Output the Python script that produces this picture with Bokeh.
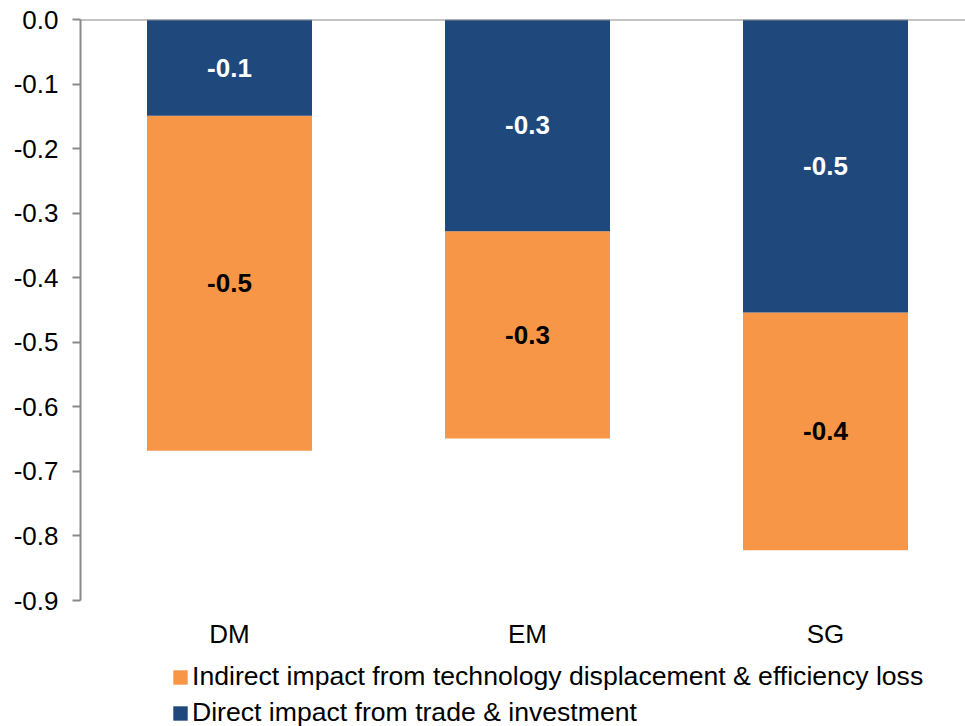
from bokeh.plotting import figure
from bokeh.models import (ColumnDataSource, Range1d, FixedTicker, NumeralTickFormatter,
                          Span, Legend, LegendItem, LabelSet)
from bokeh.core.properties import value
from bokeh.embed import file_html
from bokeh.resources import INLINE

categories = ["DM", "EM", "SG"]
direct = [-0.149, -0.328, -0.454]
indirect = [-0.519, -0.321, -0.368]
direct_name = "Direct impact from trade & investment"
indirect_name = "Indirect impact from technology displacement & efficiency loss"
y_ticks = [0.0, -0.1, -0.2, -0.3, -0.4, -0.5, -0.6, -0.7, -0.8, -0.9]
y_min, y_max = -0.9, 0.0

BLUE = "#1F497D"
ORANGE = "#F79646"
GRAY = "#898989"
FONT = "Liberation Sans"

# frame: top at 19px, axis bottom (-0.9) at 600px, canvas bottom at 726px
px_per_unit = (600 - 19) / (y_max - y_min)
y_lo = y_max - (726 - 19) / px_per_unit

xs = [i + 0.5 for i in range(len(categories))]
top_ind = [d + v for d, v in zip(direct, indirect)]
src = ColumnDataSource(dict(
    x=xs, d_top=[0.0] * len(xs), d_bot=direct, i_top=direct, i_bot=top_ind,
    d_mid=[d / 2 for d in direct],
    i_mid=[d + v / 2 for d, v in zip(direct, indirect)],
    d_lab=["%.1f" % d for d in direct],
    i_lab=["%.1f" % v for v in indirect],
    cat=categories, cat_y=[y_min] * len(xs),
))

p = figure(width=965, height=726, output_backend="svg", toolbar_location=None,
           x_range=Range1d(0, 885 / 298), y_range=Range1d(y_lo, y_max),
           min_border_left=80, min_border_right=0, min_border_top=19, min_border_bottom=0)
p.outline_line_color = None
p.grid.grid_line_color = None
p.background_fill_color = "white"
p.xaxis.visible = False

r_ind = p.vbar(x="x", top="i_top", bottom="i_bot", width=165 / 298, source=src,
               fill_color=ORANGE, line_color=None)
r_dir = p.vbar(x="x", top="d_top", bottom="d_bot", width=165 / 298, source=src,
               fill_color=BLUE, line_color=None)

p.add_layout(LabelSet(x="x", y="d_mid", text="d_lab", source=src, text_color="white",
                      text_font=value(FONT), text_font_style="bold", text_font_size="26px",
                      text_align="center", text_baseline="middle"))
p.add_layout(LabelSet(x="x", y="i_mid", text="i_lab", source=src, text_color="black",
                      text_font=value(FONT), text_font_style="bold", text_font_size="26px",
                      text_align="center", text_baseline="middle"))
# category labels
p.add_layout(LabelSet(x="x", y="cat_y", text="cat", source=src, text_color="black",
                      text_font=value(FONT), text_font_size="26px", y_offset=-33,
                      text_align="center", text_baseline="middle"))

p.add_layout(Span(location=0, dimension="width", line_color=GRAY, line_width=2))

ya = p.yaxis[0]
ya.bounds = (y_min, y_max)
ya.ticker = FixedTicker(ticks=y_ticks)
ya.formatter = NumeralTickFormatter(format="0.0")
ya.axis_line_color = GRAY
ya.axis_line_width = 2
ya.major_tick_line_color = GRAY
ya.major_tick_line_width = 2
ya.major_tick_in = 0
ya.major_tick_out = 8
ya.minor_tick_line_color = None
ya.major_label_text_font = FONT
ya.major_label_text_font_size = "26px"
ya.major_label_text_color = "black"
ya.major_label_standoff = 14

legend = Legend(items=[LegendItem(label=indirect_name, renderers=[r_ind]),
                       LegendItem(label=direct_name, renderers=[r_dir])],
                location=(91, -2), orientation="vertical",
                label_text_font=FONT, label_text_font_size="26.6px", label_text_color="black",
                glyph_width=18, glyph_height=18, label_standoff=3, spacing=5,
                padding=0, margin=0, border_line_color=None, background_fill_alpha=0)
p.add_layout(legend, "center")

open("out.html", "w").write(file_html(p, INLINE))
